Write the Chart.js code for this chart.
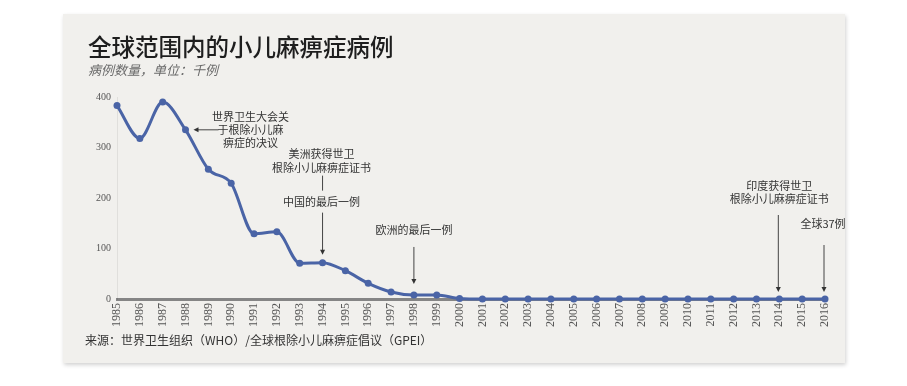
<!DOCTYPE html>
<html>
<head>
<meta charset="utf-8">
<script src="https://cdn.jsdelivr.net/npm/chart.js@4"></script>
<style>
  html, body { margin: 0; padding: 0; background: #fff; }
  #wrap { width: 907px; height: 386px; position: relative; }
</style>
</head>
<body>
<div id="wrap"><canvas id="polioChart"></canvas></div>
<script>
// cases per year, in thousands
const years = ['1985','1986','1987','1988','1989','1990','1991','1992','1993','1994','1995',
  '1996','1997','1998','1999','2000','2001','2002','2003','2004','2005','2006','2007','2008',
  '2009','2010','2011','2012','2013','2014','2015','2016'];
const cases = [383, 318, 390, 335, 257, 229, 129, 133, 71, 72, 56,
  31, 14, 8, 8, 1, 0, 0, 0, 0, 0, 0, 0, 0,
  0, 0, 0, 0, 0, 0, 0, 0];
const yTicks = [0, 100, 200, 300, 400];

const title = '全球范围内的小儿麻痹症病例';
const subtitle = '病例数量，单位：千例';
const source = '来源：世界卫生组织（WHO）/全球根除小儿麻痹症倡议（GPEI）';

const noteWHA = ['世界卫生大会关', '于根除小儿麻', '痹症的决议'];
const noteAmericas = ['美洲获得世卫', '根除小儿麻痹症证书'];
const noteChina = '中国的最后一例';
const noteEurope = '欧洲的最后一例';
const noteIndia = ['印度获得世卫', '根除小儿麻痹症证书'];
const noteWorld = '全球37例';

const CJK = "'Noto Sans CJK SC', 'Noto Sans', sans-serif";
const SERIF = "'Liberation Serif', 'DejaVu Serif', serif";
const blue = '#4a64a6';

function arrowDown(ctx, x, y1, y2) {
  ctx.beginPath();
  ctx.moveTo(x, y1);
  ctx.lineTo(x, y2 - 4);
  ctx.stroke();
  ctx.beginPath();
  ctx.moveTo(x, y2);
  ctx.lineTo(x - 2.5, y2 - 5);
  ctx.lineTo(x + 2.5, y2 - 5);
  ctx.closePath();
  ctx.fill();
}

function arrowLeft(ctx, x1, x2, y) {
  ctx.beginPath();
  ctx.moveTo(x1, y);
  ctx.lineTo(x2 + 4, y);
  ctx.stroke();
  ctx.beginPath();
  ctx.moveTo(x2, y);
  ctx.lineTo(x2 + 5, y - 2.5);
  ctx.lineTo(x2 + 5, y + 2.5);
  ctx.closePath();
  ctx.fill();
}

function lines(ctx, arr, cx, y0, lh) {
  arr.forEach((t, i) => ctx.fillText(t, cx, y0 + i * lh));
}

const paper = {
  id: 'paper',
  beforeDraw(chart) {
    const ctx = chart.ctx;
    ctx.save();
    ctx.shadowColor = 'rgba(0,0,0,0.18)';
    ctx.shadowBlur = 4;
    ctx.shadowOffsetX = 1;
    ctx.shadowOffsetY = 2;
    ctx.fillStyle = '#f1f0ed';
    ctx.fillRect(63, 14, 782, 349);
    ctx.restore();
  }
};

const notes = {
  id: 'notes',
  afterDraw(chart) {
    const ctx = chart.ctx;
    const xs = chart.scales.x, ys = chart.scales.y;
    const pt = (yr) => {
      const i = years.indexOf(yr);
      return { x: xs.getPixelForValue(i), y: ys.getPixelForValue(cases[i]) };
    };
    ctx.save();
    ctx.textBaseline = 'middle';

    // title block
    ctx.textAlign = 'left';
    ctx.fillStyle = '#1e1e1e';
    ctx.font = '500 23.5px ' + CJK;
    ctx.fillText(title, 88, 47);
    ctx.fillStyle = '#6a6a6a';
    ctx.font = 'italic 13px ' + CJK;
    ctx.fillText(subtitle, 88, 70);
    ctx.fillStyle = '#333';
    ctx.font = '12px ' + CJK;
    ctx.fillText(source, 85, 340);

    ctx.textAlign = 'center';
    ctx.font = '11px ' + CJK;
    ctx.fillStyle = '#333';
    ctx.strokeStyle = '#444';
    ctx.lineWidth = 1;

    let p = pt('1988');
    lines(ctx, noteWHA, p.x + 65, p.y - 13, 13);
    arrowLeft(ctx, p.x + 33, p.x + 8, p.y);

    p = pt('1994');
    lines(ctx, noteAmericas, p.x - 1, p.y - 109, 14);
    ctx.beginPath();
    ctx.moveTo(p.x, p.y - 87);
    ctx.lineTo(p.x, p.y - 72);
    ctx.stroke();
    ctx.fillText(noteChina, p.x - 1, p.y - 61);
    arrowDown(ctx, p.x, p.y - 50, p.y - 8);

    p = pt('1998');
    ctx.fillText(noteEurope, p.x, p.y - 65);
    arrowDown(ctx, p.x, p.y - 48, p.y - 11);

    p = pt('2014');
    lines(ctx, noteIndia, p.x, p.y - 113, 13);
    arrowDown(ctx, p.x - 1, p.y - 84, p.y - 7);

    p = pt('2016');
    ctx.fillText(noteWorld, p.x - 2, p.y - 75);
    arrowDown(ctx, p.x - 1, p.y - 54, p.y - 7);

    ctx.restore();
  }
};

const ctx = document.getElementById('polioChart').getContext('2d');
new Chart(ctx, {
  type: 'line',
  data: {
    labels: years,
    datasets: [{
      label: '病例',
      data: cases,
      borderColor: blue,
      backgroundColor: blue,
      borderWidth: 3,
      pointRadius: 3.5,
      pointBorderWidth: 0,
      pointBackgroundColor: blue,
      cubicInterpolationMode: 'monotone',
      clip: false
    }]
  },
  options: {
    responsive: true,
    maintainAspectRatio: false,
    animation: false,
    layout: { padding: { left: 77, right: 82, top: 97, bottom: 42 } },
    plugins: {
      legend: { display: false },
      tooltip: { enabled: false }
    },
    scales: {
      x: {
        grid: { display: false, drawTicks: false },
        border: { color: '#858585', width: 3 },
        ticks: {
          color: '#555',
          font: { family: SERIF, size: 12 },
          minRotation: 90,
          maxRotation: 90,
          autoSkip: false,
          padding: 4
        },
        afterFit: (s) => { s.height = 45; }
      },
      y: {
        min: 0,
        max: 400,
        grid: { display: false, drawTicks: false },
        border: { color: 'rgba(0,0,0,0.07)', width: 1 },
        afterBuildTicks: (s) => { s.ticks = yTicks.map(v => ({ value: v })); },
        ticks: {
          color: '#555',
          font: { family: SERIF, size: 10 },
          padding: 6
        },
        afterFit: (s) => { s.width = 40; }
      }
    }
  },
  plugins: [paper, notes]
});
</script>
</body>
</html>
